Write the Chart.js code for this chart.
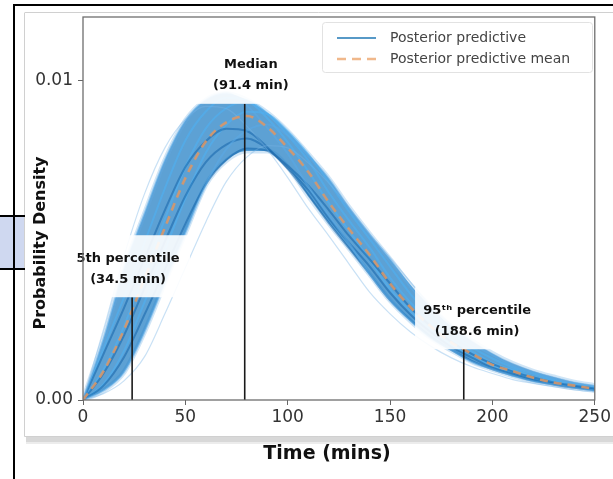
<!DOCTYPE html>
<html>
<head>
<meta charset="utf-8">
<script src="https://cdn.jsdelivr.net/npm/chart.js@4.4.1/dist/chart.umd.min.js"></script>
<style>
  html, body { margin: 0; padding: 0; background: #fff; }
  canvas { display: block; }
</style>
</head>
<body>
<canvas id="chart" width="613" height="479"></canvas>
<script>
// time grid (mins), shared by every curve
const times = [0,10,20,30,40,50,60,70,80,90,100,110,120,130,140,150,160,170,180,190,200,210,220,230,240,250];
// densities below are in units of 1e-3
const UNIT = 1e-3;

const meanCurve = [0,0.9,2.2,3.8,5.4,6.95,8.1,8.7,8.9,8.55,7.9,7.15,6.2,5.35,4.55,3.65,2.9,2.3,1.8,1.45,1.1,0.9,0.7,0.55,0.45,0.35];

// dense part of the posterior predictive band
const bandUpper = [0,1.9,4.1,5.83,7.51,8.75,9.4,9.6,9.4,9.0,8.42,7.7,6.94,6.03,5.2,4.41,3.6,2.9,2.3,1.85,1.46,1.14,0.9,0.72,0.56,0.45];
const bandLower = [0,0.3,0.87,2.13,3.69,5.24,6.74,7.5,7.8,7.8,7.3,6.4,5.55,4.75,3.94,3.12,2.48,1.94,1.56,1.2,0.96,0.76,0.59,0.48,0.38,0.3];

// individual posterior predictive draws
const drawEarlyA = [0,2.2,4.5,6.45,7.9,8.79,9.2,9.13,8.58,7.85,6.97,6.01,5.15,4.26,3.38,2.7,2.13,1.68,1.32,1.04,0.83,0.64,0.52,0.42,0.32,0.26];
const drawEarlyB = [0,1.9,4.1,5.83,7.51,8.75,9.4,9.61,9.23,8.53,7.72,6.7,5.78,4.91,3.94,3.13,2.48,1.94,1.57,1.19,0.97,0.76,0.59,0.49,0.38,0.3];
const drawEarlyC = [0,1.44,2.88,4.42,5.95,7.3,8.11,8.5,8.43,7.92,7.25,6.43,5.55,4.75,3.94,3.12,2.5,1.97,1.56,1.22,0.96,0.77,0.6,0.48,0.38,0.3];
const drawEarlyD = [0,1.61,3.21,4.92,6.63,8.13,9.04,9.47,9.39,8.83,8.08,7.17,6.18,5.3,4.39,3.48,2.78,2.19,1.73,1.36,1.07,0.86,0.66,0.54,0.43,0.33];
const drawMidA = [0,0.95,2.31,3.99,5.67,7.3,8.51,9.14,9.35,8.98,8.3,7.51,6.51,5.62,4.78,3.83,3.05,2.42,1.89,1.52,1.16,0.95,0.74,0.58,0.47,0.37];
const drawMidB = [0,0.83,2.02,3.5,4.97,6.39,7.45,8.0,8.19,7.87,7.27,6.58,5.7,4.92,4.19,3.36,2.67,2.12,1.66,1.33,1.01,0.83,0.64,0.51,0.41,0.32];
const drawLateA = [0,0.5,1.53,3.06,4.69,6.32,7.75,8.62,9.03,8.96,8.42,7.7,6.83,5.9,5.05,4.18,3.32,2.65,2.09,1.65,1.3,1.02,0.82,0.63,0.51,0.41];
const drawLateB = [0,0.45,1.34,2.67,4.09,5.52,6.76,7.52,7.88,7.81,7.34,6.72,5.96,5.14,4.41,3.65,2.89,2.31,1.82,1.44,1.13,0.89,0.71,0.55,0.45,0.36];
const drawLateC = [0,0.3,0.87,2.13,3.69,5.24,6.74,7.86,8.44,8.63,8.29,7.66,6.94,6.01,5.19,4.41,3.54,2.81,2.23,1.75,1.41,1.07,0.87,0.68,0.53,0.44];
const drawLateD = [0,0.2,0.6,1.35,2.7,4.14,5.58,6.84,7.61,7.97,7.9,7.43,6.8,6.03,5.2,4.46,3.69,2.93,2.34,1.85,1.46,1.14,0.9,0.72,0.56,0.45];

// percentile markers
const pctTimes = [24, 79, 186];
const pctTops = [3.22, 9.28, 1.59];
const pctNames = ['5th percentile', 'Median', '95\u1d57\u02b0 percentile'];
const pctValues = ['(34.5 min)', '(91.4 min)', '(188.6 min)'];

const xTicks = [0, 50, 100, 150, 200, 250];
const yTicks = [0, 0.01];
const legendLabels = ['Posterior predictive', 'Posterior predictive mean'];

const BLUE = '#1f77b4';
const ORANGE = 'rgba(222,150,100,0.85)';

const toPts = vals => times.map((t, i) => ({x: t, y: vals[i] * UNIT}));

function drawLine(vals, color, width) {
  return {
    data: toPts(vals), borderColor: color, borderWidth: width,
    pointRadius: 0, fill: false, cubicInterpolationMode: 'monotone', order: 2
  };
}

const datasets = [];
// percentile lines on top
pctTimes.forEach((t, i) => {
  datasets.push({
    data: [{x: t, y: 0}, {x: t, y: pctTops[i] * UNIT}],
    borderColor: '#1a1a1a', borderWidth: 1.6, pointRadius: 0, order: 0
  });
});
datasets.push({
  data: toPts(meanCurve), borderColor: ORANGE, borderWidth: 2.6, borderDash: [8, 6],
  pointRadius: 0, fill: false, cubicInterpolationMode: 'monotone', order: 1
});
// faint outer draws, then the denser inner ones
[drawEarlyA, drawLateD].forEach(a => datasets.push(drawLine(a, 'rgba(120,180,230,0.4)', 1.2)));
[drawEarlyB, drawLateC].forEach(a => datasets.push(drawLine(a, 'rgba(90,170,230,0.55)', 2)));
[drawEarlyC, drawMidB, drawLateB].forEach(a => datasets.push(drawLine(a, 'rgba(20,100,170,0.55)', 2)));
[drawEarlyD, drawMidA, drawLateA].forEach(a => datasets.push(drawLine(a, 'rgba(80,175,240,0.65)', 2)));
// band fill
datasets.push({
  data: toPts(bandUpper), borderColor: 'rgba(100,170,225,0.3)', borderWidth: 5,
  backgroundColor: 'rgba(30,125,195,0.72)', fill: '+1', pointRadius: 0,
  cubicInterpolationMode: 'monotone', order: 3
});
datasets.push({
  data: toPts(bandLower), borderColor: 'rgba(100,170,225,0.3)', borderWidth: 5,
  fill: false, pointRadius: 0, cubicInterpolationMode: 'monotone', order: 3
});

const labelTimes = [22, 82, 192.5];

const decor = {
  id: 'decor',
  beforeDraw(chart) {
    const ctx = chart.ctx;
    ctx.save();
    ctx.fillStyle = '#fff';
    ctx.fillRect(0, 0, chart.width, chart.height);
    // panel with soft shadow
    ctx.fillStyle = '#d8d8d8';
    ctx.fillRect(26, 436, 587, 6);
    ctx.fillStyle = '#ececec';
    ctx.fillRect(26, 442, 587, 2);
    ctx.strokeStyle = '#d0d0d0';
    ctx.lineWidth = 1;
    ctx.beginPath();
    ctx.moveTo(24.5, 13); ctx.lineTo(24.5, 436.5); ctx.lineTo(613, 436.5);
    ctx.moveTo(24.5, 12.5); ctx.lineTo(613, 12.5);
    ctx.stroke();
    // page frame bits
    ctx.fillStyle = '#cfd8f0';
    ctx.fillRect(0, 216, 24, 53);
    ctx.strokeStyle = '#000';
    ctx.lineWidth = 2;
    ctx.beginPath();
    ctx.moveTo(14, 479); ctx.lineTo(14, 5); ctx.lineTo(613, 5);
    ctx.moveTo(0, 216); ctx.lineTo(25, 216);
    ctx.moveTo(0, 269); ctx.lineTo(25, 269);
    ctx.stroke();
    ctx.restore();
  },
  afterDatasetsDraw(chart) {
    const ctx = chart.ctx;
    const xs = chart.scales.x, ys = chart.scales.y;
    ctx.save();
    pctTimes.forEach((t, i) => {
      const cx = xs.getPixelForValue(labelTimes[i]);
      const bottom = ys.getPixelForValue(pctTops[i] * UNIT);
      const w = i === 1 ? 140 : 124;
      ctx.fillStyle = 'rgba(255,255,255,0.9)';
      ctx.fillRect(cx - w / 2, bottom - 62, w, 62);
      ctx.fillStyle = '#111';
      ctx.font = 'bold 13px "DejaVu Sans"';
      ctx.textAlign = 'center';
      ctx.textBaseline = 'middle';
      ctx.fillText(pctNames[i], cx, bottom - 39);
      ctx.fillText(pctValues[i], cx, bottom - 18);
    });
    ctx.restore();
  },
  afterDraw(chart) {
    const ctx = chart.ctx;
    const a = chart.chartArea;
    ctx.save();
    // frame
    ctx.strokeStyle = '#6e6e6e';
    ctx.lineWidth = 1.3;
    ctx.strokeRect(a.left, a.top, a.right - a.left, a.bottom - a.top);
    // legend
    ctx.fillStyle = 'rgba(255,255,255,0.85)';
    ctx.strokeStyle = '#e2e2e2';
    ctx.lineWidth = 1;
    ctx.beginPath();
    ctx.roundRect(322.5, 22.5, 270, 50, 3);
    ctx.fill(); ctx.stroke();
    ctx.lineWidth = 1.6;
    ctx.strokeStyle = BLUE;
    ctx.beginPath(); ctx.moveTo(337, 38); ctx.lineTo(376, 38); ctx.stroke();
    ctx.lineWidth = 2.5;
    ctx.strokeStyle = 'rgba(235,160,100,0.75)';
    ctx.setLineDash([9, 6]);
    ctx.beginPath(); ctx.moveTo(337, 59); ctx.lineTo(376, 59); ctx.stroke();
    ctx.setLineDash([]);
    ctx.fillStyle = '#444';
    ctx.font = '14px "DejaVu Sans"';
    ctx.textAlign = 'left';
    ctx.textBaseline = 'middle';
    ctx.fillText(legendLabels[0], 390, 38);
    ctx.fillText(legendLabels[1], 390, 59);
    // axis titles
    ctx.fillStyle = '#111';
    ctx.font = 'bold 19px "DejaVu Sans"';
    ctx.textAlign = 'center';
    ctx.fillText('Time (mins)', 327, 454);
    ctx.translate(41, 243);
    ctx.rotate(-Math.PI / 2);
    ctx.font = 'bold 16px "DejaVu Sans"';
    ctx.fillText('Probability Density', 0, 0);
    ctx.restore();
  }
};

new Chart(document.getElementById('chart'), {
  type: 'line',
  data: {datasets},
  options: {
    responsive: false,
    animation: false,
    devicePixelRatio: 1,
    layout: {padding: {top: 17, right: 16, left: 0, bottom: 0}},
    plugins: {legend: {display: false}, tooltip: {enabled: false}},
    scales: {
      x: {
        type: 'linear', min: 0, max: 250,
        afterBuildTicks: s => { s.ticks = xTicks.map(v => ({value: v})); },
        afterFit: s => { s.height = 79; },
        grid: {drawOnChartArea: false, tickLength: 5, color: '#666'},
        border: {display: false},
        ticks: {font: {family: 'DejaVu Sans', size: 17}, color: '#333', padding: 2, maxRotation: 0}
      },
      y: {
        type: 'linear', min: 0, max: 0.012,
        afterBuildTicks: s => { s.ticks = yTicks.map(v => ({value: v})); },
        afterFit: s => { s.width = 83; },
        grid: {drawOnChartArea: false, tickLength: 5, color: '#666'},
        border: {display: false},
        ticks: {font: {family: 'DejaVu Sans', size: 17}, color: '#333', padding: 5,
                callback: v => v.toFixed(2)}
      }
    }
  },
  plugins: [decor]
});
</script>
</body>
</html>
